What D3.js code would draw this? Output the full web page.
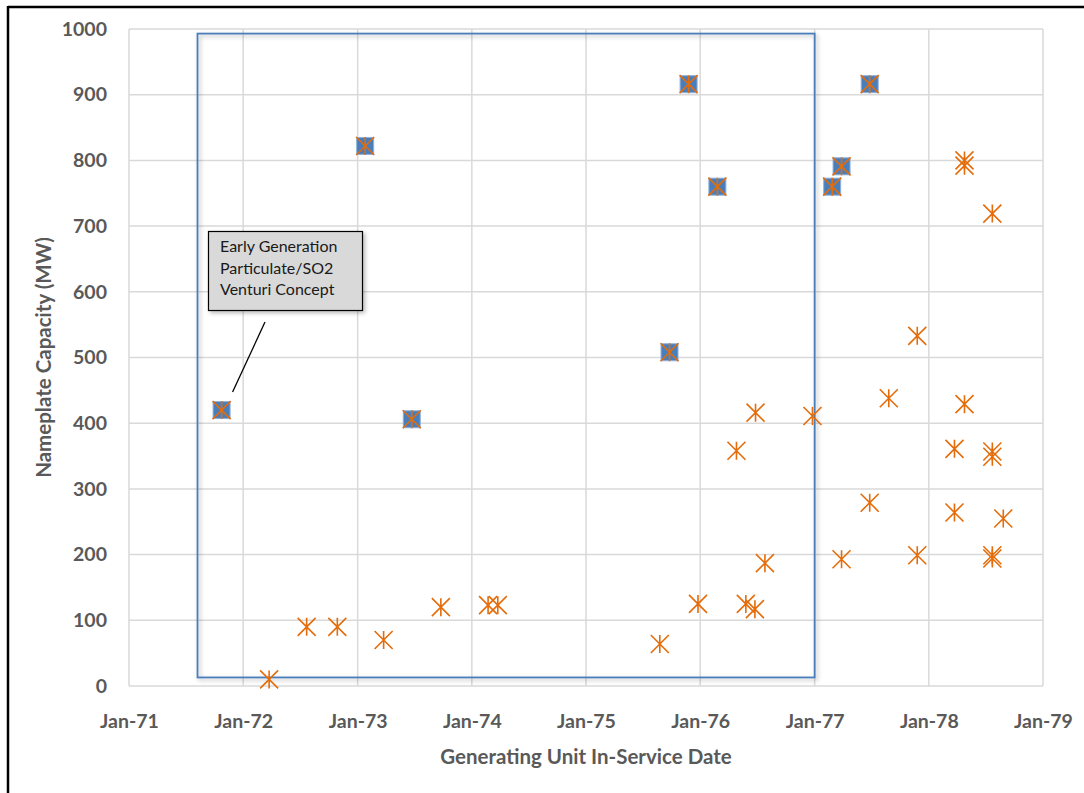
<!DOCTYPE html>
<html>
<head>
<meta charset="utf-8">
<script src="https://cdn.jsdelivr.net/npm/d3@7"></script>
<style>
  html, body { margin: 0; padding: 0; background: #ffffff; }
  svg { display: block; }
  text { font-family: Lato, "Open Sans", "Liberation Sans", sans-serif; }
</style>
</head>
<body>
<svg id="chart" width="1084" height="793"></svg>
<script>
// Units fitted with the early-generation particulate/SO2 venturi scrubber
const venturiDates = ["1971-10-24", "1973-01-25", "1973-06-23", "1975-09-25", "1975-11-25",
                      "1976-02-25", "1977-02-26", "1977-03-28", "1977-06-26"];
const venturiMW    = [420, 822, 406, 508, 916, 760, 760, 791, 916];

// All generating units by in-service date
const unitDates = ["1971-10-24", "1972-03-24", "1972-07-22", "1972-10-28", "1973-01-25",
                   "1973-03-25", "1973-06-23", "1973-09-24", "1974-02-22", "1974-03-25",
                   "1975-08-25", "1975-09-25", "1975-11-25", "1975-12-25", "1976-02-25",
                   "1976-04-26", "1976-05-26", "1976-06-24", "1976-06-26", "1976-07-26",
                   "1976-12-25", "1977-02-26", "1977-03-28", "1977-03-28", "1977-06-26",
                   "1977-06-26", "1977-08-26", "1977-11-25", "1977-11-25", "1978-03-24",
                   "1978-03-24", "1978-04-25", "1978-04-25", "1978-04-25", "1978-07-23",
                   "1978-07-23", "1978-07-23", "1978-07-23", "1978-07-23", "1978-08-27"];
const unitMW    = [420, 10, 90, 90, 822,
                   70, 406, 120, 123, 123,
                   64, 508, 916, 125, 760,
                   358, 125, 117, 416, 187,
                   411, 760, 791, 193, 916,
                   279, 438, 533, 199, 361,
                   264, 800, 792, 429, 719,
                   357, 349, 199, 194, 255];

const xTickLabels = ["Jan-71", "Jan-72", "Jan-73", "Jan-74", "Jan-75", "Jan-76", "Jan-77", "Jan-78", "Jan-79"];
const yTicks = [0, 100, 200, 300, 400, 500, 600, 700, 800, 900, 1000];

// Outline of the highlighted group of units (date range and MW range)
const groupDates = ["1971-08-08", "1977-01-01"];
const groupMW = [13, 993];

const noteLines = ["Early Generation", "Particulate/SO2", "Venturi Concept"];

const parse = d3.timeParse("%Y-%m-%d");
const svg = d3.select("#chart");

const plot = { left: 129, top: 29, right: 1043, bottom: 686 };
const tickFont = 19.5;
const titleFont = 20.5;

const x = d3.scaleTime()
  .domain([new Date(1971, 0, 1), new Date(1979, 0, 1)])
  .range([plot.left, plot.right]);
const y = d3.scaleLinear()
  .domain([0, 1000])
  .range([plot.bottom, plot.top]);

const xTicks = d3.range(1971, 1980).map(yr => new Date(yr, 0, 1));

const defs = svg.append("defs");
const shadow = defs.append("filter").attr("id", "shadow")
  .attr("x", "-10%").attr("y", "-10%").attr("width", "130%").attr("height", "130%");
shadow.append("feDropShadow")
  .attr("dx", 2).attr("dy", 2).attr("stdDeviation", 2)
  .attr("flood-color", "#000").attr("flood-opacity", 0.28);

// Frame around the chart
svg.append("line").attr("x1", 8).attr("x2", 1084).attr("y1", 7).attr("y2", 7)
  .attr("stroke", "#000").attr("stroke-width", 2.5);
svg.append("line").attr("x1", 8).attr("x2", 8).attr("y1", 6).attr("y2", 793)
  .attr("stroke", "#000").attr("stroke-width", 2.5);

// Gridlines
const grid = svg.append("g");
grid.selectAll("line.h").data(yTicks).join("line")
  .attr("x1", plot.left).attr("x2", plot.right)
  .attr("y1", d => y(d)).attr("y2", d => y(d))
  .attr("stroke", "#d9d9d9").attr("stroke-width", 1.5);
grid.selectAll("line.v").data(xTicks).join("line")
  .attr("y1", plot.top).attr("y2", plot.bottom)
  .attr("x1", d => x(d)).attr("x2", d => x(d))
  .attr("stroke", "#d9d9d9").attr("stroke-width", 1.5);

// Axes (labels only)
const yAxis = d3.axisLeft(y).tickValues(yTicks).tickSize(0).tickPadding(22)
  .tickFormat(d3.format("d"));
svg.append("g").attr("transform", `translate(${plot.left},0)`).call(yAxis)
  .call(g => g.select(".domain").remove())
  .call(g => g.selectAll("text")
    .attr("font-family", "Lato, sans-serif")
    .attr("font-size", tickFont).attr("font-weight", "bold").attr("fill", "#595959"));

const xAxis = d3.axisBottom(x).tickValues(xTicks).tickSize(0).tickPadding(28)
  .tickFormat((d, i) => xTickLabels[i]);
svg.append("g").attr("transform", `translate(0,${plot.bottom})`).call(xAxis)
  .call(g => g.select(".domain").remove())
  .call(g => g.selectAll("text")
    .attr("font-family", "Lato, sans-serif")
    .attr("font-size", tickFont).attr("font-weight", "bold").attr("fill", "#595959"));

// Axis titles
svg.append("text")
  .attr("x", (plot.left + plot.right) / 2).attr("y", 764)
  .attr("text-anchor", "middle")
  .attr("font-size", titleFont).attr("font-weight", "bold").attr("fill", "#595959")
  .text("Generating Unit In-Service Date");
svg.append("text")
  .attr("transform", `translate(51,${(plot.top + plot.bottom) / 2}) rotate(-90)`)
  .attr("text-anchor", "middle")
  .attr("font-size", titleFont).attr("font-weight", "bold").attr("fill", "#595959")
  .text("Nameplate Capacity (MW)");

// Highlight rectangle around the venturi-era units
const gx0 = x(parse(groupDates[0])), gx1 = x(parse(groupDates[1]));
const gy0 = y(groupMW[1]), gy1 = y(groupMW[0]);
svg.append("rect")
  .attr("x", gx0).attr("y", gy0)
  .attr("width", gx1 - gx0).attr("height", gy1 - gy0)
  .attr("fill", "none").attr("stroke", "#4a7ebb").attr("stroke-width", 1.8)
  .attr("filter", "url(#shadow)");

// Venturi units: blue squares
const sq = 17;
svg.append("g").selectAll("rect").data(venturiDates.map((d, i) => [parse(d), venturiMW[i]]))
  .join("rect")
  .attr("x", d => x(d[0]) - sq / 2).attr("y", d => y(d[1]) - sq / 2)
  .attr("width", sq).attr("height", sq)
  .attr("fill", "#4a7ebb").attr("stroke", "#8fb0dc").attr("stroke-width", 1);

// All units: orange star markers (X plus vertical stroke)
const r = 9;
const starPath = `M${-r},${-r}L${r},${r}M${-r},${r}L${r},${-r}M0,${-r}L0,${r}`;
svg.append("g").selectAll("path").data(unitDates.map((d, i) => [parse(d), unitMW[i]]))
  .join("path")
  .attr("transform", d => `translate(${x(d[0])},${y(d[1])})`)
  .attr("d", starPath)
  .attr("fill", "none").attr("stroke", "#e46c0a").attr("stroke-width", 1.6);

// Callout note with leader line to the first venturi unit
const first = [parse(venturiDates[0]), venturiMW[0]];
svg.append("line")
  .attr("x1", 265).attr("y1", 322)
  .attr("x2", x(first[0]) + 11).attr("y2", y(first[1]) - 18)
  .attr("stroke", "#000").attr("stroke-width", 1.3);
svg.append("rect")
  .attr("x", 208.5).attr("y", 231.5).attr("width", 154).attr("height", 79)
  .attr("fill", "#d9d9d9").attr("stroke", "#000").attr("stroke-width", 1.2)
  .attr("filter", "url(#shadow)");
svg.append("g").selectAll("text").data(noteLines).join("text")
  .attr("x", 220).attr("y", (d, i) => 252 + i * 21.5)
  .attr("font-size", 16).attr("fill", "#1a1a1a")
  .text(d => d);
</script>
</body>
</html>
